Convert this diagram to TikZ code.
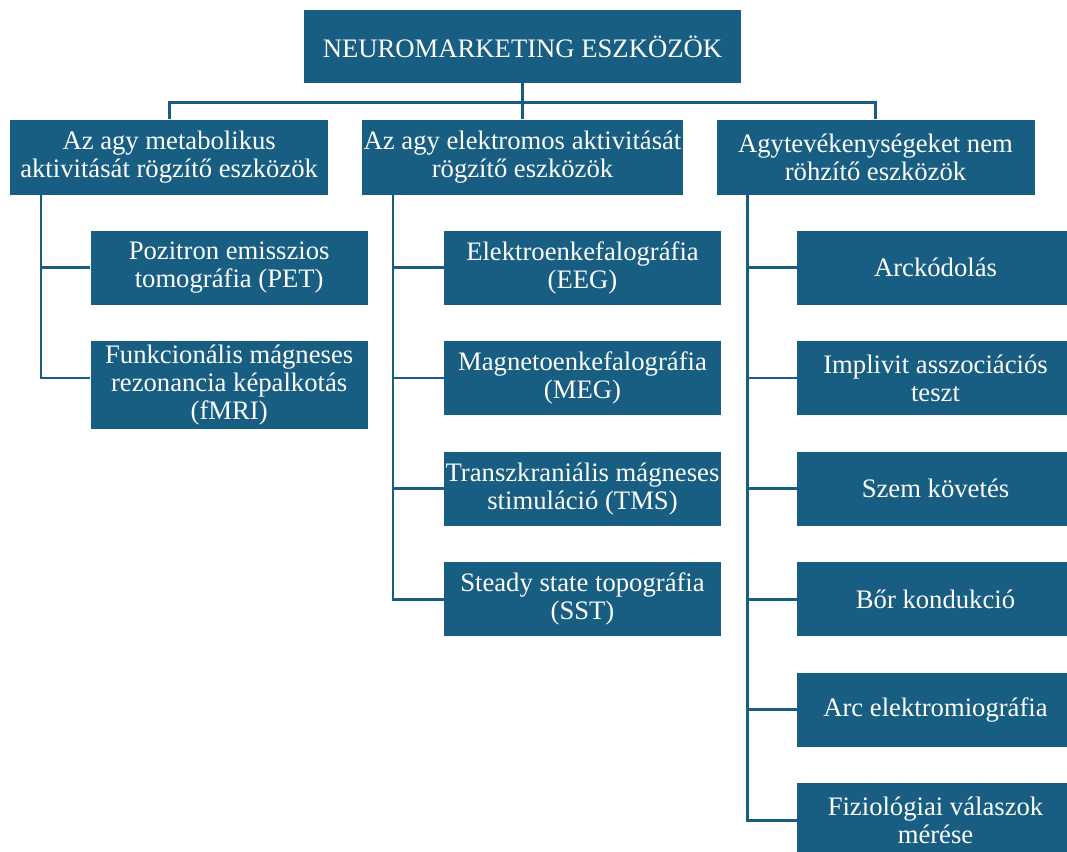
\documentclass[tikz,border=0pt]{standalone}
\usepackage{fontspec}
\setmainfont{Liberation Serif}
\usetikzlibrary{positioning}
\definecolor{boxblue}{HTML}{185E82}
\tikzstyle{rootbox} = [
  rectangle,
  minimum width=327.75pt,
  minimum height=54.75pt,
  text centered,
  fill=boxblue,
  text=white,
  font=\fontsize{20}{21}\selectfont
]
\tikzstyle{groupbox} = [
  rectangle,
  minimum width=238.5pt,
  minimum height=56.25pt,
  inner sep=1pt,
  align=center,
  fill=boxblue,
  text=white,
  font=\fontsize{20}{21}\selectfont
]
\tikzstyle{itembox} = [
  rectangle,
  minimum width=207.75pt,
  minimum height=55.5pt,
  inner sep=1pt,
  align=center,
  fill=boxblue,
  text=white,
  font=\fontsize{20}{21}\selectfont
]
\tikzstyle{line} = [draw=boxblue, line width=2pt]

\begin{document}
\begin{tikzpicture}[node distance=82.9pt]
    \useasboundingbox (0,0) rectangle (800.25pt,-639pt);
    \node (neuro-tools) [rootbox] at (391.875pt,-34.875pt) {NEUROMARKETING ESZKÖZÖK};
    \node (metabolic) [groupbox, below of=neuro-tools, xshift=-265pt] {Az agy metabolikus\\aktivitását rögzítő eszközök};
    \node (electric) [groupbox, below of=neuro-tools] {Az agy elektromos aktivitását\\rögzítő eszközök};
    \node (non-brain) [groupbox, below of=neuro-tools, xshift=264.75pt] {Agytevékenységeket nem\\röhzítő eszközök};

    \node (pet) [itembox, below of=metabolic, xshift=45pt] {Pozitron emisszios\\tomográfia (PET)};
    \node (fmri) [itembox, below of=pet, yshift=-5.25pt, minimum height=66pt] {Funkcionális mágneses\\rezonancia képalkotás\\(fMRI)};

    \node (eeg) [itembox, below of=electric, xshift=45pt] {Elektroenkefalográfia\\(EEG)};
    \node (meg) [itembox, below of=eeg] {Magnetoenkefalográfia\\(MEG)};
    \node (tms) [itembox, below of=meg] {Transzkraniális mágneses\\stimuláció (TMS)};
    \node (sst) [itembox, below of=tms] {Steady state topográfia\\(SST)};

    \node (face-coding) [itembox, below of=non-brain, xshift=45pt] {Arckódolás};
    \node (iat) [itembox, below of=face-coding] {Implivit asszociációs\\teszt};
    \node (eye-tracking) [itembox, below of=iat] {Szem követés};
    \node (skin) [itembox, below of=eye-tracking] {Bőr kondukció};
    \node (face-emg) [itembox, below of=skin] {Arc elektromiográfia};
    \node (physio) [itembox, below of=face-emg] {Fiziológiai válaszok\\mérése};

    \coordinate (metabolic-trunk) at ([xshift=23.25pt]metabolic.south west);
    \coordinate (electric-trunk) at ([xshift=23.25pt]electric.south west);
    \coordinate (non-brain-trunk) at ([xshift=23.25pt]non-brain.south west);

    \draw [line] (neuro-tools.south) -- ++(0,-14.5pt) -| (metabolic.north);
    \draw [line] (neuro-tools.south) -- (electric.north);
    \draw [line] (neuro-tools.south) -- ++(0,-14.5pt) -| (non-brain.north);

    \draw [line] (metabolic-trunk) |- (pet.west);
    \draw [line] (metabolic-trunk) |- ([yshift=5.25pt]fmri.west);
    \draw [line] (electric-trunk) |- (eeg.west);
    \draw [line] (electric-trunk) |- (meg.west);
    \draw [line] (electric-trunk) |- (tms.west);
    \draw [line] (electric-trunk) |- (sst.west);
    \draw [line] (non-brain-trunk) |- (face-coding.west);
    \draw [line] (non-brain-trunk) |- (iat.west);
    \draw [line] (non-brain-trunk) |- (eye-tracking.west);
    \draw [line] (non-brain-trunk) |- (skin.west);
    \draw [line] (non-brain-trunk) |- (face-emg.west);
    \draw [line] (non-brain-trunk) |- (physio.west);
  \end{tikzpicture}
\end{document}
